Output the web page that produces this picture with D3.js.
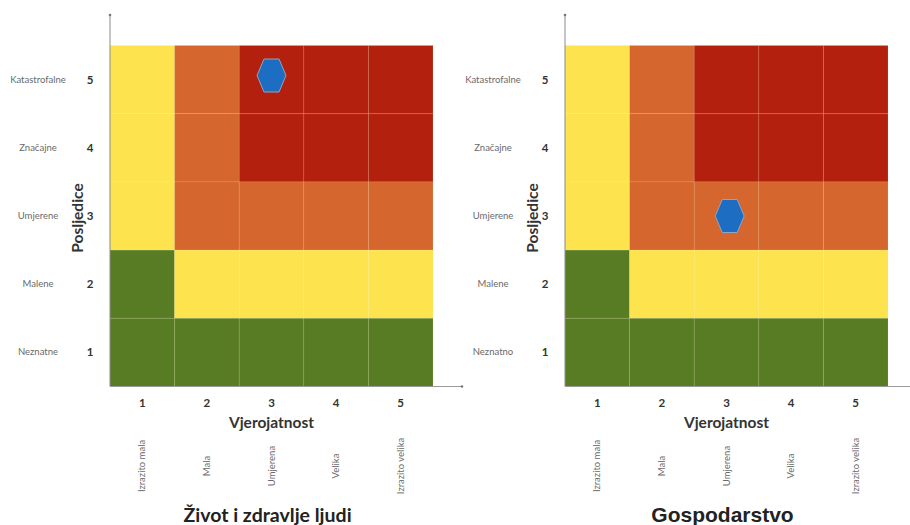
<!DOCTYPE html>
<html>
<head>
<meta charset="utf-8">
<script src="https://cdn.jsdelivr.net/npm/d3@7"></script>
<style>
  html, body { margin: 0; padding: 0; background: #fff; }
  svg { display: block; }
</style>
</head>
<body>
<svg id="chart" width="910" height="525"></svg>
<script>
// ---- data ----
const probLevels = [1, 2, 3, 4, 5];
const impactLevels = [5, 4, 3, 2, 1];
const probLabels = ["Izrazito mala", "Mala", "Umjerena", "Velika", "Izrazito velika"];
const impactLabelsLeft = ["Katastrofalne", "Značajne", "Umjerene", "Malene", "Neznatne"];
const impactLabelsRight = ["Katastrofalne", "Značajne", "Umjerene", "Malene", "Neznatno"];
// risk class per impact row (5..1), per probability column (1..5)
const riskRows = [
  ["Y", "O", "R", "R", "R"],
  ["Y", "O", "R", "R", "R"],
  ["Y", "O", "O", "O", "O"],
  ["G", "Y", "Y", "Y", "Y"],
  ["G", "G", "G", "G", "G"]
];
const panelTitles = ["Život i zdravlje ljudi", "Gospodarstvo"];
const markerProb = [3, 3.05];
const markerImpact = [5.06, 3.0];

const riskColors = { G: "#577c24", Y: "#fde44e", O: "#d4662e", R: "#b4200e" };

const svg = d3.select("#chart");
const fontMain = "Lato, 'Open Sans', sans-serif";
const titleFonts = ["Lato, sans-serif", "'Liberation Sans', Arial, sans-serif"];
const titleSizes = [19.5, 21];

function drawPanel(idx, offsetX, impactLabels) {
  const g = svg.append("g").attr("transform", `translate(${offsetX},0)`);
  const x0 = 110, x1 = 433, y0 = 45.5, y1 = 386.5;
  const x = d3.scaleBand().domain(probLevels).range([x0, x1]);
  const y = d3.scaleBand().domain(impactLevels).range([y0, y1]);
  const xl = d3.scaleLinear().domain([0.5, 5.5]).range([x0, x1]);
  const yl = d3.scaleLinear().domain([0.5, 5.5]).range([y1, y0]);

  const cells = [];
  riskRows.forEach((row, ri) => row.forEach((c, ci) => {
    cells.push({ p: probLevels[ci], i: impactLevels[ri], c });
  }));
  g.selectAll("rect.cell").data(cells).enter().append("rect")
    .attr("class", "cell")
    .attr("x", d => x(d.p)).attr("y", d => y(d.i))
    .attr("width", x.bandwidth()).attr("height", y.bandwidth())
    .attr("fill", d => riskColors[d.c])
    .attr("stroke", "rgba(255,230,150,0.12)")
    .attr("stroke-width", 1);

  // axes lines
  g.append("line").attr("x1", x0).attr("x2", x0).attr("y1", 15).attr("y2", y1)
    .attr("stroke", "#8a8a8a").attr("stroke-width", 1);
  g.append("circle").attr("cx", x0).attr("cy", 15).attr("r", 1.3).attr("fill", "#777");
  g.append("line").attr("x1", x0).attr("x2", 462).attr("y1", y1).attr("y2", y1)
    .attr("stroke", "#9a9a9a").attr("stroke-width", 1);
  g.append("circle").attr("cx", 462).attr("cy", y1).attr("r", 1.3).attr("fill", "#777");

  // y tick numbers and labels
  g.selectAll("text.ynum").data(impactLevels).enter().append("text")
    .attr("x", 90).attr("y", d => y(d) + y.bandwidth() / 2 + 4)
    .attr("text-anchor", "middle")
    .attr("font-family", fontMain).attr("font-weight", "bold").attr("font-size", 11.5)
    .attr("fill", "#333").text(d => d);
  g.selectAll("text.ylab").data(impactLevels).enter().append("text")
    .attr("x", 38).attr("y", d => y(d) + y.bandwidth() / 2 + 3)
    .attr("text-anchor", "middle")
    .attr("font-family", fontMain).attr("font-size", 9.5)
    .attr("fill", "#6a6a6a").text((d, k) => impactLabels[k]);

  // x tick numbers and labels
  g.selectAll("text.xnum").data(probLevels).enter().append("text")
    .attr("x", d => x(d) + x.bandwidth() / 2).attr("y", 407)
    .attr("text-anchor", "middle")
    .attr("font-family", fontMain).attr("font-weight", "bold").attr("font-size", 11.5)
    .attr("fill", "#333").text(d => d);
  g.selectAll("text.xlab").data(probLevels).enter().append("text")
    .attr("transform", d => `translate(${x(d) + x.bandwidth() / 2 + 3},466) rotate(-90)`)
    .attr("text-anchor", "middle")
    .attr("font-family", fontMain).attr("font-size", 9.5)
    .attr("fill", "#6a6a6a").text((d, k) => probLabels[k]);

  // axis titles
  g.append("text").attr("x", (x0 + x1) / 2).attr("y", 428)
    .attr("text-anchor", "middle")
    .attr("font-family", fontMain).attr("font-weight", "bold").attr("font-size", 15.5)
    .attr("fill", "#333").text("Vjerojatnost");
  g.append("text").attr("transform", `translate(83,218) rotate(-90)`)
    .attr("text-anchor", "middle")
    .attr("font-family", fontMain).attr("font-weight", "bold").attr("font-size", 15.5)
    .attr("fill", "#333").text("Posljedice");

  // panel title
  g.append("text").attr("x", (x0 + x1) / 2 - 4).attr("y", 522)
    .attr("text-anchor", "middle")
    .attr("font-family", titleFonts[idx]).attr("font-weight", "bold").attr("font-size", titleSizes[idx])
    .attr("fill", "#222").text(panelTitles[idx]);

  // hexagon marker
  const cx = xl(markerProb[idx]), cy = yl(markerImpact[idx]);
  const hw = 14.5, hh = 16.5, tw = 7.5;
  const pts = [[cx - hw, cy], [cx - tw, cy - hh], [cx + tw, cy - hh], [cx + hw, cy], [cx + tw, cy + hh], [cx - tw, cy + hh]];
  g.append("path").attr("d", d3.line()(pts) + "Z")
    .attr("fill", "#1d6ec3").attr("stroke", "#8fa4c0").attr("stroke-width", 1);
}

drawPanel(0, 0, impactLabelsLeft);
drawPanel(1, 455, impactLabelsRight);
</script>
</body>
</html>
